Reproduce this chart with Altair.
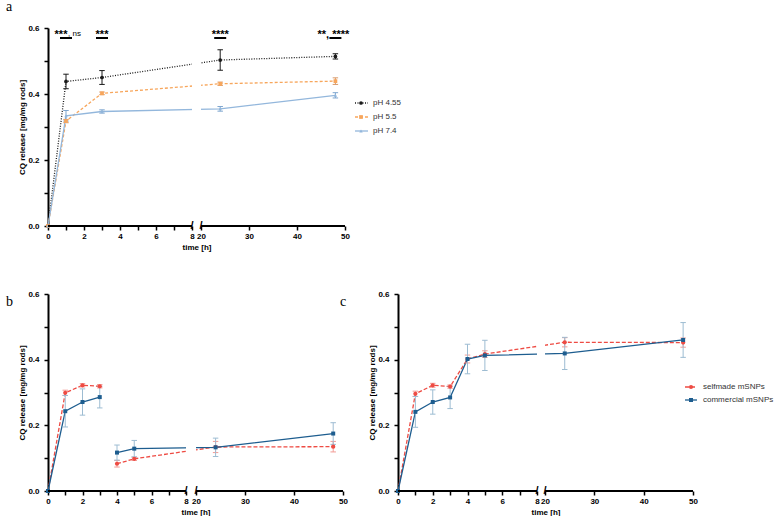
import altair as alt
import pandas as pd

FONT = "Liberation Sans"
SERIF = "Liberation Serif"

# ---------------- data: panel a ----------------
time_a = [0, 1, 3, 24, 48]
names_a = ["pH 4.55", "pH 5.5", "pH 7.4"]
ph455_mean = [0.0, 0.438, 0.450, 0.503, 0.514]
ph455_err = [0.0, 0.022, 0.021, 0.031, 0.008]
ph55_mean = [0.0, 0.318, 0.402, 0.431, 0.439]
ph55_err = [0.0, 0.005, 0.004, 0.005, 0.010]
ph74_mean = [0.0, 0.334, 0.347, 0.355, 0.396]
ph74_err = [0.0, 0.016, 0.005, 0.007, 0.008]

sig_time = [1, 3, 24, 48]
sig_stars = ["***", "***", "****", "**, ****"]
sig_extra_time = [1]
sig_extra = [", ns"]

# ---------------- data: panels b and c ----------------
time_bc = [0, 1, 2, 3, 4, 5, 24, 48]
names_bc = ["selfmade mSNPs", "commercial mSNPs"]
seg_b = [0, 0, 0, 0, 1, 1, 1, 1]
seg_c = [0, 0, 0, 0, 0, 0, 0, 0]
b_self_mean = [0.0, 0.299, 0.322, 0.319, 0.083, 0.098, 0.134, 0.135]
b_self_err = [0.0, 0.008, 0.005, 0.005, 0.010, 0.005, 0.017, 0.016]
b_comm_mean = [0.0, 0.243, 0.271, 0.286, 0.117, 0.129, 0.133, 0.175]
b_comm_err = [0.0, 0.048, 0.040, 0.033, 0.023, 0.025, 0.028, 0.033]
c_self_mean = [0.0, 0.296, 0.322, 0.318, 0.402, 0.417, 0.453, 0.452]
c_self_err = [0.0, 0.008, 0.006, 0.005, 0.012, 0.010, 0.014, 0.014]
c_comm_mean = [0.0, 0.241, 0.271, 0.285, 0.402, 0.413, 0.419, 0.460]
c_comm_err = [0.0, 0.047, 0.037, 0.034, 0.045, 0.046, 0.049, 0.053]

# ---------------- axes ----------------
x_domain = [0, 8, 20, 50]
x_tick_values = [0, 1, 2, 3, 4, 5, 6, 7, 8, 20, 30, 40, 50]
axis_seg_start = [0, 20]
axis_seg_end = [8, 50]
break_marks = [8, 20]
y_tick_values = [0.0, 0.1, 0.2, 0.3, 0.4, 0.5, 0.6]


def build_panel(series, x_range, w, h, letters, legend=None, extra=None):
    xs = alt.Scale(domain=x_domain, range=x_range, nice=False, zero=False)
    ys = alt.Scale(domain=[0, 0.6], nice=False, zero=False)
    xaxis = alt.Axis(values=x_tick_values, title="time [h]", domain=False,
                     labelExpr="datum.value <= 8 && datum.value % 2 != 0 ? '' : datum.label",
                     tickSize=4, tickWidth=1.5, tickColor="black", grid=False,
                     labelFont=FONT, labelFontSize=8, labelFontWeight="bold", labelColor="black",
                     labelPadding=2, labelOverlap=False, labelFlush=False,
                     titleFont=FONT, titleFontSize=8, titleFontWeight="bold", titleColor="black",
                     titlePadding=3)
    yaxis = alt.Axis(values=y_tick_values, title="CQ release [mg/mg rods]",
                     labelExpr="round(datum.value * 10) % 2 == 0 ? format(datum.value, '.1f') : ''",
                     domain=True, domainColor="black", domainWidth=2,
                     tickSize=4, tickWidth=1.5, tickColor="black", grid=False,
                     labelFont=FONT, labelFontSize=8, labelFontWeight="bold", labelColor="black",
                     labelPadding=5, labelOverlap=False, labelFlush=False,
                     titleFont=FONT, titleFontSize=8, titleFontWeight="bold", titleColor="black",
                     titlePadding=1)

    def X(f):
        return alt.X(f, type="quantitative", scale=xs, axis=xaxis)

    def Y(f):
        return alt.Y(f, type="quantitative", scale=ys, axis=yaxis)

    line_layers, err_layers, pt_layers, leg_layers = [], [], [], []
    for i, s in enumerate(series):
        df = pd.DataFrame({
            "t": s["t"], "v": s["m"],
            "lo": [a - b for a, b in zip(s["m"], s["e"])],
            "hi": [a + b for a, b in zip(s["m"], s["e"])],
            "e": s["e"], "seg": s["seg"],
        })
        lk = dict(color=s["c"], strokeWidth=1.3)
        if s.get("dash"):
            lk["strokeDash"] = s["dash"]
        line_layers.append(alt.Chart(df).mark_line(**lk).encode(
            x=X("t"), y=Y("v"), detail="seg:N"))
        dfe = df[df["e"] > 0]
        err_layers.append(alt.Chart(dfe).mark_rule(color=s["ec"], strokeWidth=1).encode(
            x=X("t"), y=Y("lo"), y2="hi"))
        for f in ["lo", "hi"]:
            err_layers.append(alt.Chart(dfe).mark_point(
                shape="M-1,0L1,0", size=30, filled=False, strokeWidth=1,
                color=s["ec"], opacity=1).encode(x=X("t"), y=Y(f)))
        pt_layers.append(alt.Chart(df).mark_point(
            shape=s["shape"], size=s["size"], filled=True, color=s["c"], opacity=1).encode(
            x=X("t"), y=Y("v")))
        if legend is not None:
            lx0, lx1, lxm, ltx, ly0, ldy = legend
            ly = ly0 + i * ldy
            ldf = pd.DataFrame({"name": [s["name"]]})
            rk = dict(color=s["c"], strokeWidth=1.3)
            if s.get("dash"):
                rk["strokeDash"] = s["dash"]
            leg_layers.append(alt.Chart(ldf).mark_rule(**rk).encode(
                x=alt.value(lx0), x2=alt.value(lx1), y=alt.value(ly)))
            leg_layers.append(alt.Chart(ldf).mark_point(
                shape=s["shape"], size=s["size"], filled=True, color=s["c"], opacity=1).encode(
                x=alt.value(lxm), y=alt.value(ly)))
            leg_layers.append(alt.Chart(ldf).mark_text(
                align="left", baseline="middle", font=FONT, fontSize=8, color="#333333").encode(
                x=alt.value(ltx), y=alt.value(ly), text="name:N"))

    mask = alt.Chart(pd.DataFrame({"s": [break_marks[0]], "e": [break_marks[1]]})).mark_rect(
        color="white", opacity=1).encode(x=X("s"), x2="e", y=alt.value(0), y2=alt.value(h - 1.5))
    axis_line = alt.Chart(pd.DataFrame({"s": axis_seg_start, "e": axis_seg_end})).mark_rule(
        color="black", strokeWidth=2).encode(x=X("s"), x2="e", y=alt.value(h))
    slashes = alt.Chart(pd.DataFrame({"s": break_marks, "txt": ["/", "/"]})).mark_text(
        font=FONT, fontSize=11, fontWeight="bold", baseline="middle", align="center",
        color="black").encode(x=X("s"), y=alt.value(h), text="txt:N")
    letter_layers = []
    for (txt, lx, ly) in letters:
        letter_layers.append(alt.Chart(pd.DataFrame({"l": [txt]})).mark_text(
            font=SERIF, fontSize=14, align="left", baseline="alphabetic", color="black").encode(
            x=alt.value(lx), y=alt.value(ly), text="l:N"))

    layers = line_layers + [mask] + err_layers + pt_layers + [axis_line, slashes] + leg_layers + letter_layers
    if extra is not None:
        layers += extra(X)
    return alt.layer(*layers).properties(width=w, height=h)


def sig_layers(X):
    sdf = pd.DataFrame({"t": sig_time, "stars": sig_stars,
                        "dx": [-5, 0, 0, -2]})
    out = []
    for i in range(len(sig_time)):
        d = sdf.iloc[[i]]
        out.append(alt.Chart(d).mark_text(
            font=FONT, fontSize=11, fontWeight="bold", baseline="alphabetic", align="center",
            dx=int(sdf["dx"][i]), color="black").encode(x=X("t"), y=alt.value(9.5), text="stars:N"))
    out.append(alt.Chart(pd.DataFrame({"t": sig_extra_time, "txt": sig_extra})).mark_text(
        font=FONT, fontSize=8, baseline="alphabetic", align="left", dx=2,
        color="black").encode(x=X("t"), y=alt.value(7.5), text="txt:N"))
    out.append(alt.Chart(pd.DataFrame({"t": sig_time})).mark_point(
        shape="M-1,0L1,0", size=144, filled=False, strokeWidth=2, color="black", opacity=1).encode(
        x=X("t"), y=alt.value(10)))
    return out


BLACK = "#1a1a1a"
ORANGE = "#f7a65c"
LBLUE = "#93b7dc"
RED = "#ee4b43"
DBLUE = "#1d5d8f"
RED_E = "#f29a94"
BLUE_E = "#9dbcd2"

series_a = [
    dict(t=time_a, m=ph455_mean, e=ph455_err, seg=[0] * 5, c=BLACK, ec=BLACK, dash=[1, 1.5],
         shape="circle", size=14, name=names_a[0]),
    dict(t=time_a, m=ph55_mean, e=ph55_err, seg=[0] * 5, c=ORANGE, ec="#d99a6a", dash=[3, 2],
         shape="square", size=14, name=names_a[1]),
    dict(t=time_a, m=ph74_mean, e=ph74_err, seg=[0] * 5, c=LBLUE, ec="#7ea6cf", dash=None,
         shape="triangle-up", size=12, name=names_a[2]),
]
series_b = [
    dict(t=time_bc, m=b_self_mean, e=b_self_err, seg=seg_b, c=RED, ec=RED_E, dash=[4, 2],
         shape="circle", size=18, name=names_bc[0]),
    dict(t=time_bc, m=b_comm_mean, e=b_comm_err, seg=seg_b, c=DBLUE, ec=BLUE_E, dash=None,
         shape="square", size=16, name=names_bc[1]),
]
series_c = [
    dict(t=time_bc, m=c_self_mean, e=c_self_err, seg=seg_c, c=RED, ec=RED_E, dash=[4, 2],
         shape="circle", size=18, name=names_bc[0]),
    dict(t=time_bc, m=c_comm_mean, e=c_comm_err, seg=seg_c, c=DBLUE, ec=BLUE_E, dash=None,
         shape="square", size=16, name=names_bc[1]),
]

panel_a = build_panel(series_a, [0, 144, 153, 297], 297, 198,
                      letters=[("a", -42, -17)],
                      legend=(307, 320, 313, 325, 75, 14),
                      extra=sig_layers)
panel_b = build_panel(series_b, [0, 138, 148, 295], 295, 197,
                      letters=[("b", -42, 12), ("c", 292, 12)])
panel_c = build_panel(series_c, [0, 139, 147, 295], 295, 197,
                      letters=[],
                      legend=(287, 299, 293, 305, 93, 13))

chart = alt.vconcat(
    panel_a,
    alt.hconcat(panel_b, panel_c, spacing=20),
    spacing=39,
).properties(padding={"left": 6, "top": 0, "right": 0, "bottom": 0}).configure_view(stroke=None)

chart.save("out.html", embed_options={"renderer": "svg", "actions": False})
